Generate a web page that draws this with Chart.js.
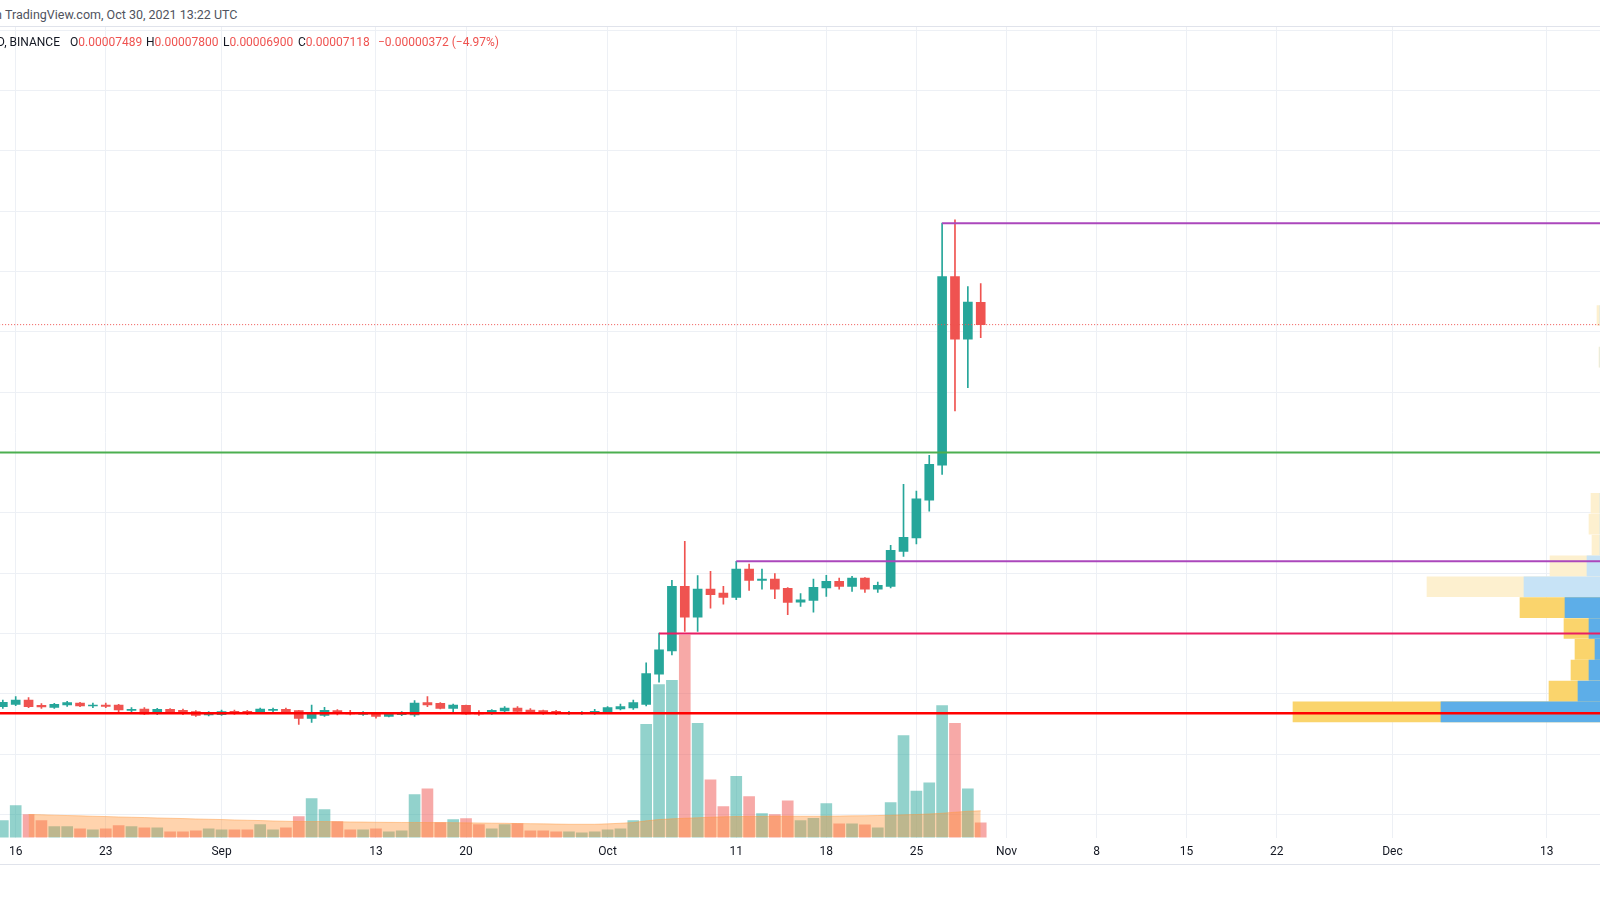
<!DOCTYPE html>
<html>
<head>
<meta charset="utf-8">
<script src="https://cdn.jsdelivr.net/npm/chart.js@4.4.0/dist/chart.umd.min.js"></script>
<style>
  html, body { margin: 0; padding: 0; background: #fff; }
  body { width: 1600px; height: 900px; overflow: hidden; position: relative; font-family: Roboto, "Open Sans", sans-serif; color: #131722; }
  #header { position: absolute; left: 5px; top: 7px; font-size: 12.5px; color: #50535e; white-space: nowrap; }
  .cut { position: absolute; right: 100%; top: 0; white-space: pre; }
  #sep { position: absolute; left: 0; top: 26px; width: 1600px; height: 1px; background: #e0e3eb; }
  #legend { position: absolute; left: 0; top: 35px; width: 1600px; height: 16px; font-size: 12px; white-space: nowrap; }
  #legend span { position: absolute; top: 0; }
  .val { color: #ef5350; }
  #wrap { position: absolute; left: 0; top: 27px; width: 1600px; height: 839px; }
  #bottomLine { position: absolute; left: 0; top: 864px; width: 1600px; height: 1px; background: #e0e3eb; }
</style>
</head>
<body>
<div id="header"><span class="cut">published on </span>TradingView.com, Oct 30, 2021 13:22 UTC</div>
<div id="sep"></div>
<div id="wrap"><canvas id="chart" width="1600" height="839"></canvas></div>
<div id="legend"></div>
<div id="bottomLine"></div>
<script>
// SHIBUSDT daily, prices in units of 1e-8 USDT
const candleDates = [
  '2021-08-15','2021-08-16','2021-08-17','2021-08-18','2021-08-19','2021-08-20','2021-08-21','2021-08-22','2021-08-23',
  '2021-08-24','2021-08-25','2021-08-26','2021-08-27','2021-08-28','2021-08-29','2021-08-30','2021-08-31',
  '2021-09-01','2021-09-02','2021-09-03','2021-09-04','2021-09-05','2021-09-06','2021-09-07','2021-09-08','2021-09-09',
  '2021-09-10','2021-09-11','2021-09-12','2021-09-13','2021-09-14','2021-09-15','2021-09-16','2021-09-17','2021-09-18',
  '2021-09-19','2021-09-20','2021-09-21','2021-09-22','2021-09-23','2021-09-24','2021-09-25','2021-09-26','2021-09-27',
  '2021-09-28','2021-09-29','2021-09-30',
  '2021-10-01','2021-10-02','2021-10-03','2021-10-04','2021-10-05','2021-10-06','2021-10-07','2021-10-08','2021-10-09',
  '2021-10-10','2021-10-11','2021-10-12','2021-10-13','2021-10-14','2021-10-15','2021-10-16','2021-10-17','2021-10-18',
  '2021-10-19','2021-10-20','2021-10-21','2021-10-22','2021-10-23','2021-10-24','2021-10-25','2021-10-26','2021-10-27',
  '2021-10-28','2021-10-29','2021-10-30'
];
const opens = [
  788, 826, 898, 810, 777, 815, 849, 799, 815, 815, 727, 749, 671, 743, 727, 705, 649,
  655, 710, 710, 688, 727, 743, 721, 594, 644, 721, 693, 660, 682, 627, 655, 649, 854, 843, 760, 810, 688, 671, 716, 766, 732, 721, 710, 671, 671, 671,
  688, 749, 766, 826, 1325, 1713, 2781, 2271, 2736, 2670, 2598, 3069, 2881, 2902, 2748, 2520, 2549, 2754, 2864, 2781, 2919, 2736, 2781, 3362, 3583, 4210, 4791, 7914, 6879, 7489
];
const highs = [
  898, 954, 937, 837, 843, 876, 860, 849, 849, 826, 771, 771, 760, 754, 749, 721, 705,
  732, 732, 727, 766, 766, 766, 727, 815, 777, 738, 727, 705, 693, 688, 705, 887, 954, 854, 832, 815, 721, 738, 788, 788, 754, 732, 727, 710, 705, 743,
  788, 832, 898, 1514, 2005, 2881, 3529, 2959, 3030, 2781, 3196, 3152, 3069, 2992, 2760, 2660, 2902, 2964, 2919, 2947, 2925, 2853, 3462, 4470, 4359, 4952, 8800, 8854, 7748, 7800
];
const lows = [
  760, 804, 771, 760, 760, 793, 788, 771, 771, 705, 688, 655, 655, 688, 655, 627, 633,
  644, 660, 655, 677, 705, 682, 494, 527, 627, 649, 649, 644, 599, 616, 638, 627, 788, 749, 705, 660, 644, 660, 699, 693, 682, 660, 655, 660, 660, 660,
  677, 732, 743, 800, 1192, 1647, 2034, 2034, 2421, 2487, 2560, 2715, 2736, 2577, 2311, 2449, 2354, 2615, 2736, 2698, 2681, 2681, 2754, 3279, 3484, 4027, 4636, 5688, 6075, 6900
];
const closes = [
  860, 898, 788, 782, 826, 854, 799, 815, 793, 732, 743, 666, 743, 705, 671, 644, 677,
  705, 677, 671, 749, 743, 705, 594, 660, 727, 671, 666, 682, 627, 671, 682, 849, 815, 760, 815, 666, 666, 727, 766, 710, 705, 671, 671, 693, 688, 710,
  771, 788, 854, 1336, 1730, 2781, 2271, 2736, 2643, 2598, 3069, 2881, 2902, 2736, 2515, 2560, 2765, 2864, 2781, 2919, 2736, 2798, 3379, 3595, 4231, 4803, 7914, 6879, 7490, 7118
];
// volume (arbitrary units) and its moving average
const volumes = [
  170, 320, 230, 170, 110, 110, 87, 77, 87, 120, 110, 97, 97, 57, 57, 67, 87,
  77, 77, 77, 130, 77, 97, 210, 390, 280, 160, 77, 77, 87, 57, 67, 430, 487, 150, 180, 190, 130, 87, 130, 140, 67, 67, 57, 57, 47, 57,
  77, 87, 170, 1130, 1527, 1570, 2020, 1140, 577, 310, 610, 410, 240, 230, 367, 170, 193, 340, 137, 137, 127, 97, 350, 1017, 463, 547, 1317, 1140, 487, 147
];
const volumeMA = [
  null, null, 230, 228, 224, 220, 217, 213, 210, 206, 203, 200, 196, 193, 190, 186, 183,
  180, 176, 173, 170, 166, 163, 160, 160, 160, 158, 156, 155, 153, 152, 151, 151, 150, 150, 149, 147, 146, 144, 143, 140, 139, 137, 135, 133, 133, 133,
  137, 143, 150, 167, 180, 187, 193, 198, 203, 207, 210, 211, 212, 213, 213, 213, 213, 213, 215, 217, 218, 220, 223, 227, 230, 236, 243, 253, 263, 267
];

const tickDates = ['2021-08-16','2021-08-23','2021-09-01','2021-09-13','2021-09-20','2021-10-01','2021-10-11','2021-10-18',
  '2021-10-25','2021-11-01','2021-11-08','2021-11-15','2021-11-22','2021-12-01','2021-12-13'];
const tickLabels = ['16','23','Sep','13','20','Oct','11','18','25','Nov','8','15','22','Dec','13'];
// price grid levels (0.00001 steps; the price scale itself is cut off)
const priceGrid = [-1000, 0, 1000, 2000, 3000, 4000, 5000, 6000, 7000, 8000, 9000, 10000, 11000, 12000];

// drawn horizontal levels (null start = whole width)
const levelPrices = [8800, 5000, 3196, 2000, 680];
const levelFrom = ['2021-10-27', null, '2021-10-11', '2021-10-05', null];
const levelColors = ['#ab47bc', '#4caf50', '#ab47bc', '#e91e63', '#ff0000'];
const levelWidths = [2, 2, 2, 2, 2.5];

// visible range volume profile rows (price, up volume, down volume)
const vpPrices = [700, 1046, 1392, 1737, 2083, 2429, 2775, 3121, 3466, 3812, 4158, 6579, 7270];
const vpUp =     [159, 22, 11, 5, 11, 35, 76, 13, 0, 0, 0, 0, 0];
const vpDown =   [148, 29, 18, 20, 25, 45, 97, 37, 8, 11, 9, 1, 3];
const vpValueArea = [true, true, true, true, true, true, false, false, false, false, false, false, false];

const UP = '#26a69a', DOWN = '#ef5350';
const T0 = Date.parse('2021-08-15');
const dayOf = s => (Date.parse(s) - T0) / 864e5;
const xs = candleDates.map(dayOf);
const tickDays = tickDates.map(dayOf);
const X_MIN = -0.22, X_MAX = 124.13;
const Y_MIN = -1382, Y_MAX = 12050;
const VOL_MAX = 8086;

const isUp = closes.map((c, i) => c >= opens[i]);
const candleColor = isUp.map(u => u ? UP : DOWN);
const volColor = isUp.map(u => u ? 'rgba(38,166,154,0.5)' : 'rgba(239,83,80,0.5)');

// legend
const last = closes.length - 1;
const fmt = v => (v / 1e8).toFixed(8);
const chg = closes[last] - closes[last - 1];
const pct = (chg / closes[last - 1] * 100).toFixed(2);
document.getElementById('legend').innerHTML =
  '<span style="right:1540px">SHIBUSDT, 1D, BINANCE</span>' +
  '<span style="left:70px">O<span class="val" style="position:static">' + fmt(opens[last]) + '</span></span>' +
  '<span style="left:146px">H<span class="val" style="position:static">' + fmt(highs[last]) + '</span></span>' +
  '<span style="left:223px">L<span class="val" style="position:static">' + fmt(lows[last]) + '</span></span>' +
  '<span style="left:298px">C<span class="val" style="position:static">' + fmt(closes[last]) + '</span></span>' +
  '<span class="val" style="left:378px">\u2212' + fmt(Math.abs(chg)) + ' (\u2212' + Math.abs(pct) + '%)</span>';

Chart.defaults.font.family = 'Roboto';

const levelSets = levelPrices.map((p, i) => ({
  type: 'line',
  data: [{ x: levelFrom[i] ? dayOf(levelFrom[i]) : X_MIN - 1, y: p }, { x: X_MAX + 1, y: p }],
  borderColor: levelColors[i],
  borderWidth: levelWidths[i],
  pointRadius: 0,
  order: 0
}));

new Chart(document.getElementById('chart'), {
  data: {
    datasets: [
      ...levelSets,
      {
        type: 'line',
        data: [{ x: X_MIN - 1, y: closes[last] }, { x: X_MAX + 1, y: closes[last] }],
        borderColor: DOWN,
        borderWidth: 1,
        borderDash: [1, 2],
        pointRadius: 0,
        order: 0
      },
      {
        type: 'bar',
        data: xs.map((x, i) => ({ x, y: [opens[i], closes[i]] })),
        backgroundColor: candleColor,
        barThickness: 9,
        maxBarThickness: 9,
        grouped: false,
        order: 1
      },
      {
        type: 'bar',
        data: xs.map((x, i) => ({ x, y: [lows[i], highs[i]] })),
        backgroundColor: candleColor,
        barThickness: 1,
        maxBarThickness: 1,
        grouped: false,
        order: 2
      },
      {
        // up volume part of each profile row, over the down part
        type: 'bar',
        indexAxis: 'y',
        xAxisID: 'xv',
        yAxisID: 'yv',
        data: vpPrices.map((p, i) => ({ y: p, x: [0, vpUp[i]] })),
        backgroundColor: vpValueArea.map(v => v ? '#5daee8' : '#c7e3f6'),
        barThickness: 20,
        maxBarThickness: 20,
        grouped: false,
        order: 3
      },
      {
        type: 'bar',
        indexAxis: 'y',
        xAxisID: 'xv',
        yAxisID: 'yv',
        data: vpPrices.map((p, i) => ({ y: p, x: [0, vpUp[i] + vpDown[i]] })),
        backgroundColor: vpValueArea.map(v => v ? '#fad46c' : '#fdf0cf'),
        barThickness: 20,
        maxBarThickness: 20,
        grouped: false,
        order: 4
      },
      {
        type: 'line',
        yAxisID: 'y2',
        data: xs.map((x, i) => ({ x, y: volumeMA[i] })),
        borderColor: 'rgba(255,150,60,0.45)',
        backgroundColor: 'rgba(255,145,50,0.4)',
        borderWidth: 1,
        pointRadius: 0,
        fill: 'origin',
        order: 5
      },
      {
        type: 'bar',
        yAxisID: 'y2',
        data: xs.map((x, i) => ({ x, y: volumes[i] })),
        backgroundColor: volColor,
        barThickness: 11,
        maxBarThickness: 11,
        grouped: false,
        order: 6
      }
    ]
  },
  options: {
    responsive: false,
    animation: false,
    devicePixelRatio: 1,
    layout: { padding: 0 },
    plugins: { legend: { display: false }, tooltip: { enabled: false } },
    scales: {
      x: {
        type: 'linear',
        offset: false,
        min: X_MIN,
        max: X_MAX,
        afterBuildTicks: axis => { axis.ticks = tickDays.map(v => ({ value: v })); },
        ticks: {
          autoSkip: false,
          maxRotation: 0,
          padding: 7,
          color: '#131722',
          font: { size: 12 },
          callback: (v, i) => tickLabels[i]
        },
        grid: { color: '#edf0f5', drawTicks: false, offset: false },
        border: { display: false }
      },
      y: {
        type: 'linear',
        position: 'right',
        offset: false,
        min: Y_MIN,
        max: Y_MAX,
        afterBuildTicks: axis => { axis.ticks = priceGrid.map(v => ({ value: v })); },
        ticks: { display: false },
        grid: { color: '#edf0f5', drawTicks: false },
        border: { display: false }
      },
      y2: { type: 'linear', display: false, offset: false, min: 0, max: VOL_MAX },
      yv: { type: 'linear', display: false, offset: false, min: Y_MIN, max: Y_MAX },
      xv: { type: 'linear', display: false, offset: false, min: 0, max: 1600, reverse: true }
    }
  }
});
</script>
</body>
</html>
